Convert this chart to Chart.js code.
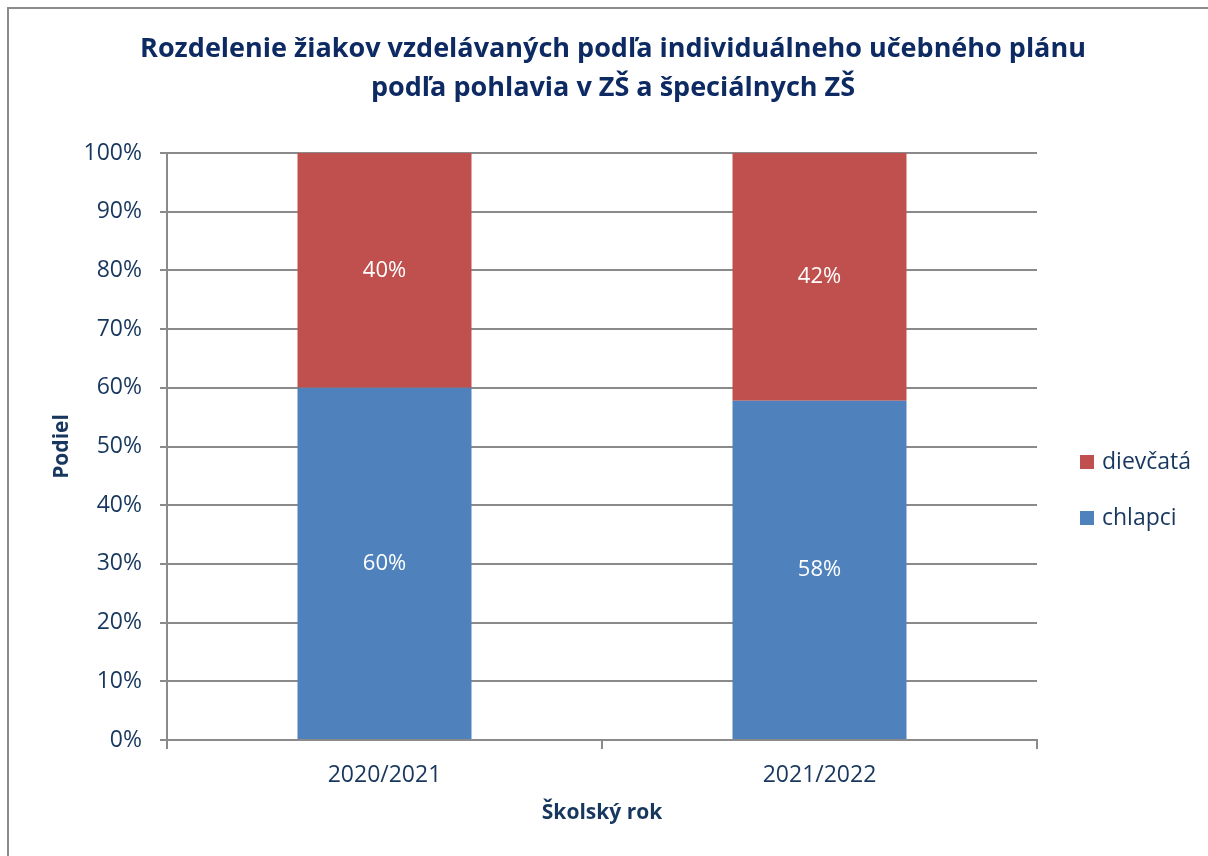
<!DOCTYPE html>
<html>
<head>
<meta charset="utf-8">
<script src="https://cdn.jsdelivr.net/npm/chart.js@4/dist/chart.umd.min.js"></script>
<style>
  html, body { margin: 0; padding: 0; background: #fff; overflow: hidden; width: 1208px; height: 856px; }
  #frame { position: absolute; left: 7px; top: 7px; width: 1208px; height: 860px; border: 2px solid #8c8c8c; }
  #frame canvas { position: absolute; left: 0; top: 0; }
  #legend { position: absolute; left: 1071px; top: 445px; font-family: "Open Sans", sans-serif; font-size: 23px; color: #17375E; }
  #legend .item { position: relative; height: 56px; }
  #legend .box { position: absolute; left: 0; top: 1px; width: 14px; height: 14px; }
  #legend .lbl { position: absolute; left: 22px; top: -10px; white-space: nowrap; }
</style>
</head>
<body>
<div id="frame">
  <canvas id="chart" width="1208" height="847"></canvas>
  <div id="legend"></div>
</div>
<script>
// ── Data ──────────────────────────────────────────────────────────────────────
const schoolYears = ["2020/2021", "2021/2022"];
const boysShare   = [60, 57.8];   // chlapci
const girlsShare  = [40, 42.2];   // dievčatá
const yTicks      = [0, 10, 20, 30, 40, 50, 60, 70, 80, 90, 100];

const titleLines  = ["Rozdelenie žiakov vzdelávaných podľa individuálneho učebného plánu",
                     "podľa pohlavia v ZŠ a špeciálnych ZŠ"];

const NAVY  = "#17375E";
const GRID  = "#8a8a8a";
const FONT  = "'Open Sans', sans-serif";

// ── Segment labels (white, centred in each stacked segment) ──────────────────
const segmentLabels = {
  id: "segmentLabels",
  afterDatasetsDraw(chart) {
    const { ctx } = chart;
    ctx.save();
    ctx.fillStyle = "#ffffff";
    ctx.font = `22px ${FONT}`;
    ctx.textAlign = "center";
    ctx.textBaseline = "middle";
    chart.data.datasets.forEach((ds, i) => {
      chart.getDatasetMeta(i).data.forEach((bar, j) => {
        const mid = (bar.y + bar.base) / 2;
        ctx.fillText(Math.round(ds.data[j]) + "%", bar.x, mid);
      });
    });
    ctx.restore();
  }
};

const datasets = [
  { label: "chlapci",  data: boysShare,  backgroundColor: "#4F81BD" },
  { label: "dievčatá", data: girlsShare, backgroundColor: "#C0504D" }
];

new Chart(document.getElementById("chart").getContext("2d"), {
  type: "bar",
  data: {
    labels: schoolYears,
    datasets: datasets.map(d => ({ ...d, barPercentage: 0.4, categoryPercentage: 1, borderWidth: 0 }))
  },
  options: {
    responsive: false,
    animation: false,
    layout: { padding: 0 },
    plugins: {
      legend: { display: false },
      tooltip: { enabled: false },
      title: {
        display: true,
        text: titleLines,
        color: "#0D2A63",
        font: { family: FONT, size: 27, weight: "bold", lineHeight: 1.45 },
        padding: { top: 21, bottom: 44.7 }
      }
    },
    scales: {
      x: {
        stacked: true,
        afterFit: s => { s.height = 116; },
        border: { display: true, color: GRID, width: 2 },
        grid: { drawOnChartArea: false, drawTicks: true, tickLength: 9, color: GRID, lineWidth: 2 },
        ticks: { color: NAVY, font: { family: FONT, size: 23 }, padding: 13 },
        title: {
          display: true, text: "Školský rok", color: NAVY,
          font: { family: FONT, size: 21, weight: "bold", lineHeight: 1.2 },
          padding: { top: 0, bottom: 30 }
        }
      },
      y: {
        stacked: true,
        min: 0, max: 100,
        afterFit: s => { s.width = 158; },
        afterBuildTicks: s => { s.ticks = yTicks.map(v => ({ value: v })); },
        border: { display: true, color: GRID, width: 2 },
        grid: { color: GRID, lineWidth: 2, tickLength: 7 },
        ticks: { color: NAVY, font: { family: FONT, size: 23 }, padding: 18, callback: v => v + "%" },
        title: {
          display: true, text: "Podiel", color: NAVY,
          font: { family: FONT, size: 21, weight: "bold", lineHeight: 1.2 },
          padding: { top: 40, bottom: 0 }
        }
      },
      // empty right-hand box reserving room for the legend, so the title stays centred on the frame
      spacer: {
        position: "right",
        display: true,
        afterFit: s => { s.width = 180; },
        grid: { display: false },
        border: { display: false },
        ticks: { display: false }
      }
    }
  },
  plugins: [segmentLabels]
});

// ── Legend (reverse order, like the original) ─────────────────────────────────
const legendEl = document.getElementById("legend");
datasets.slice().reverse().forEach(d => {
  const item = document.createElement("div");
  item.className = "item";
  item.innerHTML = `<span class="box" style="background:${d.backgroundColor}"></span><span class="lbl">${d.label}</span>`;
  legendEl.appendChild(item);
});
</script>
</body>
</html>
